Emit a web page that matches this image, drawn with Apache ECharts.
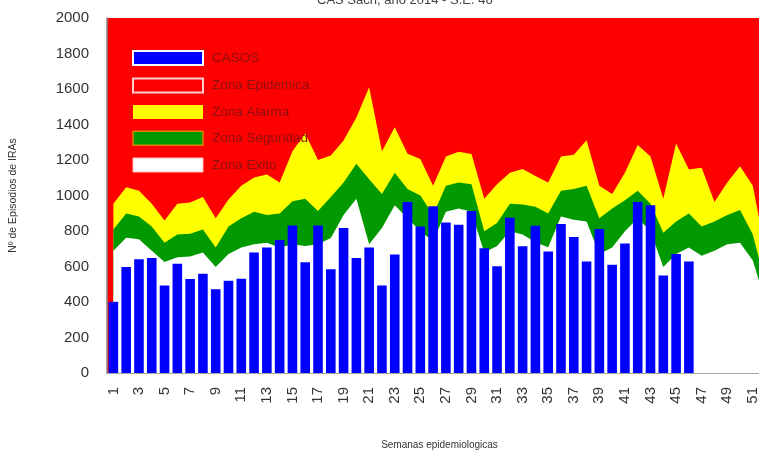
<!DOCTYPE html>
<html>
<head>
<meta charset="utf-8">
<script src="https://cdn.jsdelivr.net/npm/echarts/dist/echarts.min.js"></script>
<style>
html,body{margin:0;padding:0;background:#fff;overflow:hidden;width:759px;height:455px;}
#wrap{position:relative;width:759px;height:455px;overflow:hidden;}
#c{position:absolute;left:0;top:0;width:772px;height:455px;}
</style>
</head>
<body>
<div id="wrap"><div id="c"></div></div>
<script>
const weeks = ['1','2','3','4','5','6','7','8','9','10','11','12','13','14','15','16','17','18','19','20','21','22','23','24','25','26','27','28','29','30','31','32','33','34','35','36','37','38','39','40','41','42','43','44','45','46','47','48','49','50','51','52'];
const yTicks = [0,200,400,600,800,1000,1200,1400,1600,1800,2000];
const casos = [401,597,641,648,493,615,529,559,472,520,531,679,707,749,831,624,831,584,817,648,707,493,667,963,826,940,848,835,912,703,602,875,714,830,685,839,766,628,811,610,729,963,945,549,670,628];
const zonaExito = [689,762,753,689,625,652,656,679,597,670,707,725,734,707,725,716,725,760,890,982,725,817,945,872,799,744,908,927,908,679,716,799,780,736,709,881,863,853,670,707,799,872,799,597,670,707,661,689,725,734,634,400];
const zonaSeguridad = [808,899,881,826,734,780,784,808,707,826,872,908,890,899,967,982,913,991,1073,1179,1091,1009,1128,1036,1000,890,1055,1073,1064,799,845,954,950,936,899,1027,1036,1055,872,927,973,1027,954,790,853,899,826,853,890,918,780,500];
const zonaAlarma = [954,1046,1027,954,859,954,960,991,872,978,1055,1101,1119,1073,1250,1350,1200,1225,1310,1440,1610,1250,1385,1235,1205,1055,1220,1247,1234,982,1064,1128,1150,1110,1073,1220,1229,1311,1055,1009,1128,1284,1220,982,1293,1147,1156,963,1073,1165,1055,680];

const chart = echarts.init(document.getElementById('c'), null, {renderer:'canvas', width:772, height:455});
const areaSeries = (name, data, color) => ({
  name, type:'line', data, symbol:'none', silent:true, z:1,
  lineStyle:{width:0, color}, itemStyle:{color},
  areaStyle:{color, opacity:1}
});
chart.setOption({
  animation:false,
  title:{text:'CAS Sacn, año 2014 - S.E. 46', left:312, top:-11,
    textStyle:{fontSize:13, fontWeight:'normal', color:'#444', fontFamily:'Liberation Sans'}},
  grid:{left:106, right:0, top:18, bottom:73, show:true, backgroundColor:'#ff0000', borderWidth:0},
  legend:{
    orient:'vertical', left:127, top:45, itemWidth:70, itemHeight:14, itemGap:11.5,
    icon:'rect', selectedMode:false,
    textStyle:{fontSize:13.5, color:'#8b1010', fontFamily:'Liberation Sans', padding:[0,0,0,4]},
    data:[
      {name:'CASOS', itemStyle:{color:'#0000ff', borderColor:'#ffffff', borderWidth:2}},
      {name:'Zona Epidemica', itemStyle:{color:'#ff0000', borderColor:'#ffd0d0', borderWidth:2}},
      {name:'Zona Alarma', itemStyle:{color:'#ffff00', borderWidth:0}},
      {name:'Zona Seguridad', itemStyle:{color:'#009900', borderColor:'#e08000', borderWidth:1.5}},
      {name:'Zona Exito', itemStyle:{color:'#ffffff', borderColor:'#ffc0c0', borderWidth:1}}
    ]
  },
  xAxis:{
    type:'category', data:weeks,
    name:'Semanas epidemiologicas', nameLocation:'middle', nameGap:67,
    nameTextStyle:{fontSize:10, color:'#333', fontFamily:'Liberation Sans'},
    axisLine:{show:true, lineStyle:{color:'#888', width:1.5}},
    axisTick:{show:false},
    axisLabel:{interval:1, rotate:90, fontSize:15, color:'#333', margin:14, fontFamily:'Liberation Sans'}
  },
  yAxis:{
    type:'value', min:yTicks[0], max:yTicks[yTicks.length-1], interval:yTicks[1]-yTicks[0],
    name:'Nº de Episodios de IRAs', nameLocation:'middle', nameGap:88, nameRotate:90,
    nameTextStyle:{fontSize:10.5, color:'#333', fontFamily:'Liberation Sans'},
    axisLine:{show:true, lineStyle:{color:'#888', width:1.5}},
    axisTick:{show:false}, splitLine:{show:false},
    axisLabel:{fontSize:15, color:'#333', margin:18, fontFamily:'Liberation Sans', formatter:v => String(v)}
  },
  series:[
    {name:'Zona Epidemica', type:'line', data:[], z:1, itemStyle:{color:'#ff0000'}, lineStyle:{color:'#ff0000'}},
    areaSeries('Zona Alarma', zonaAlarma, '#ffff00'),
    areaSeries('Zona Seguridad', zonaSeguridad, '#009900'),
    areaSeries('Zona Exito', zonaExito, '#ffffff'),
    {name:'CASOS', type:'bar', data:casos, barWidth:'75%', z:5, itemStyle:{color:'#0000ff'}}
  ]
});
</script>
</body>
</html>
